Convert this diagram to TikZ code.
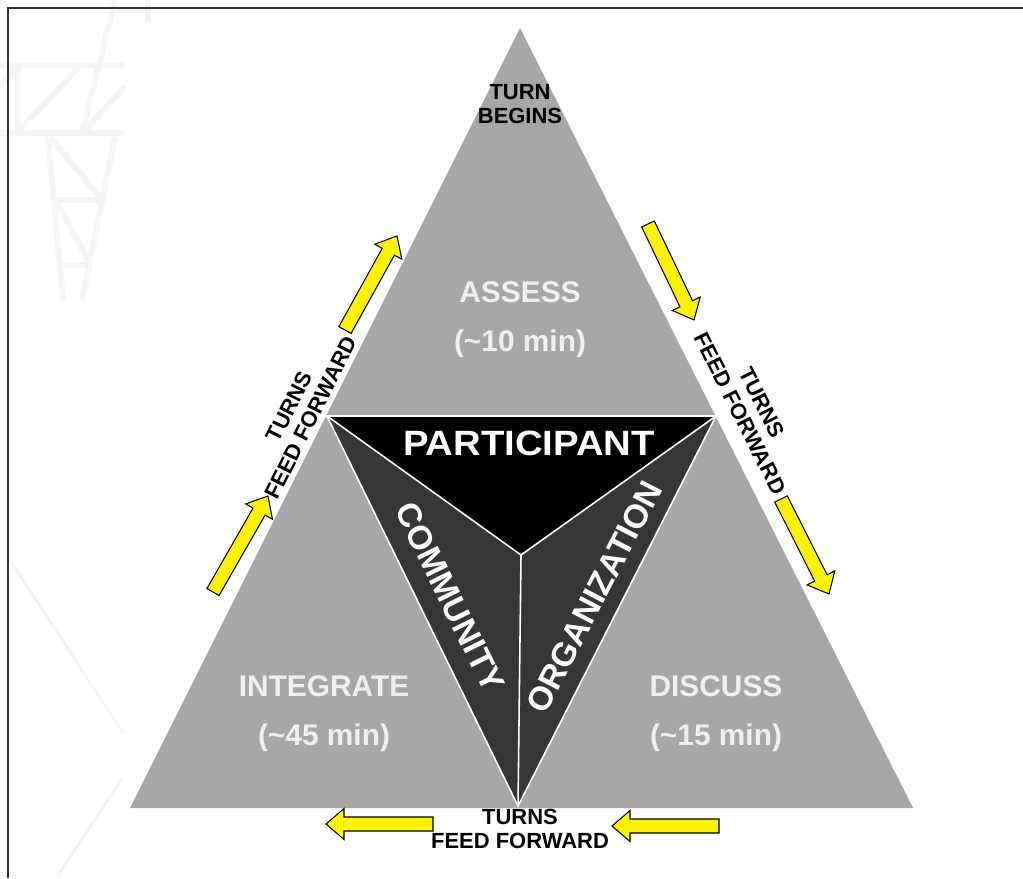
\documentclass[tikz,border=0pt]{standalone}
\usepackage{fontspec}
\setmainfont{Liberation Sans}
\usetikzlibrary{calc}

\definecolor{trigray}{HTML}{A9A6A6}
\definecolor{sidegray}{HTML}{383535}
\definecolor{phasewhite}{HTML}{EFEFEF}
\definecolor{markgray}{HTML}{F4F5F7}

\tikzset{
  phase/.style={text=phasewhite, font=\bfseries\fontsize{17}{28}\selectfont, align=center},
  focus/.style={text=white, font=\bfseries\fontsize{19}{22}\selectfont},
  note/.style={text=black, font=\bfseries\fontsize{12.5}{13.8}\selectfont, align=center},
  feed/.style={draw=black, line width=0.6pt, fill=yellow, line join=miter},
  split/.style={draw=white, line width=0.9pt},
  watermark/.style={draw=markgray, line width=3.4pt}
}

% block arrow from tail #1 to tip #2
\newcommand{\feedarrow}[2]{%
  \coordinate (fb) at ($(#2)!0.36cm!(#1)$);
  \draw[feed] ($(#1)!0.14cm!90:(#2)$) -- ($(fb)!0.14cm!90:(#2)$)
    -- ($(fb)!0.31cm!90:(#2)$) -- (#2) -- ($(fb)!0.31cm!-90:(#2)$)
    -- ($(fb)!0.14cm!-90:(#2)$) -- ($(#1)!0.14cm!-90:(#2)$) -- cycle;
}

\begin{document}
\begin{tikzpicture}[x=0.02cm,y=-0.02cm]
  \useasboundingbox (0,0) rectangle (1023,878);

  % faint background
  \draw[watermark] (0,65) -- (125,65);
  \draw[watermark] (0,133) -- (125,133);
  \draw[watermark] (18,65) -- (18,133);
  \draw[watermark] (115,0) -- (82,133);
  \draw[watermark] (115,10) -- (148,10) (148,0) -- (148,22);
  \draw[watermark] (20,130) -- (78,68);
  \draw[watermark] (85,130) -- (125,87);
  \draw[watermark] (0,87) -- (13,68);
  \draw[watermark] (48,137) -- (63,300);
  \draw[watermark] (115,137) -- (82,300);
  \draw[watermark] (52,200) -- (100,200);
  \draw[watermark] (58,265) -- (88,265);
  \draw[watermark] (50,137) -- (100,197);
  \draw[watermark] (57,203) -- (88,260);
  \draw[watermark, line width=1.5pt] (10,560) -- (123,733);
  \draw[watermark, line width=1.5pt] (57,877) -- (123,777);

  % frame
  \draw[black!80, line width=1.1pt] (8,878) -- (8,8) -- (1023,8);

  \coordinate (apex) at (520,28);
  \coordinate (bl) at (130,808);
  \coordinate (br) at (913,808);
  \coordinate (ml) at (327,416);
  \coordinate (mr) at (716,416);
  \coordinate (mb) at (518,806);
  \coordinate (ctr) at (521,555);

  \fill[trigray] (apex) -- (bl) -- (br) -- cycle;
  \fill[black] (ml) -- (mr) -- (ctr) -- cycle;
  \fill[sidegray] (ml) -- (ctr) -- (mb) -- cycle;
  \fill[sidegray] (mr) -- (ctr) -- (mb) -- cycle;
  \draw[split] (ml) -- (mr) -- (mb) -- cycle;
  \draw[split] (ml) -- (ctr) -- (mr) (ctr) -- (mb);

  \node[note] (begins) at (520,104) {TURN\\BEGINS};
  \node[phase] (assess) at (520,320) {ASSESS\\(\textasciitilde10 min)};
  \node[phase] (integrate) at (324,714) {INTEGRATE\\(\textasciitilde45 min)};
  \node[phase] (discuss) at (716,714) {DISCUSS\\(\textasciitilde15 min)};

  \node[focus, font=\bfseries\fontsize{20}{22}\selectfont, xscale=1.09] (participant) at (529,443) {PARTICIPANT};
  \node[focus, rotate=-63.7] (community) at (450,597) {COMMUNITY};
  \node[focus, rotate=62.5] (organization) at (594,597) {ORGANIZATION};

  \node[note, rotate=63.4] (feedleft) at (300,412) {TURNS\\FEED FORWARD};
  \node[note, rotate=-63.4] (feedright) at (751,408) {TURNS\\FEED FORWARD};
  \node[note] (feedbottom) at (520,829) {TURNS\\FEED FORWARD};

  \coordinate (la) at (345,330);  \coordinate (lb) at (397,236);
  \coordinate (lc) at (213,592);  \coordinate (ld) at (268,496);
  \coordinate (ra) at (648,224);  \coordinate (rb) at (694,320);
  \coordinate (rc) at (781,499);  \coordinate (rd) at (829,594);
  \coordinate (ba) at (433,824);  \coordinate (bb) at (326,824);
  \coordinate (bc) at (719,826);  \coordinate (bd) at (612,826);

  \feedarrow{la}{lb}
  \feedarrow{lc}{ld}
  \feedarrow{ra}{rb}
  \feedarrow{rc}{rd}
  \feedarrow{ba}{bb}
  \feedarrow{bc}{bd}

\end{tikzpicture}
\end{document}
